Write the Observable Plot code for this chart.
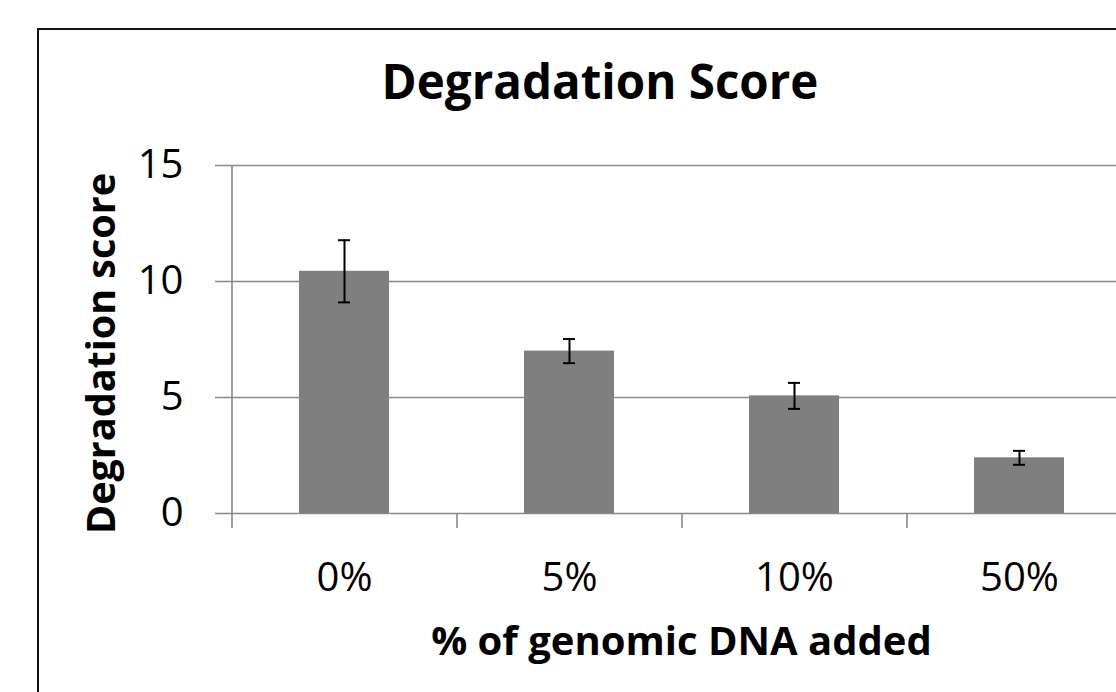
<!DOCTYPE html>
<html>
<head>
<meta charset="utf-8">
<script src="https://cdn.jsdelivr.net/npm/d3@7"></script>
<script src="https://cdn.jsdelivr.net/npm/@observablehq/plot@0.6"></script>
<style>
  html, body { margin: 0; padding: 0; background: #fff; overflow: hidden; width: 1116px; height: 692px; }
  #page { position: relative; width: 1116px; height: 692px; overflow: hidden; }
  #frame { position: absolute; left: 37px; top: 28px; width: 1200px; height: 800px; border: 2px solid #111; box-sizing: border-box; }
  #title { position: relative; height: 130px; }
  #title span { position: absolute; left: 0; width: 1200px; top: 57px; text-align: center; font: bold 47.5px "Open Sans", sans-serif; line-height: 1; color: #000; }
  #chart svg { max-width: none !important; overflow: visible; display: block; }
</style>
</head>
<body>
<div id="page">
  <div id="frame"></div>
  <div id="title"><span>Degradation Score</span></div>
  <div id="chart"></div>
</div>
<script>
const titleText = "Degradation Score";
const xLabel = "% of genomic DNA added";
const yLabel = "Degradation score";
const categories = ["0%", "5%", "10%", "50%"];
const scores = [10.44, 7.0, 5.07, 2.40];
const errors = [1.34, 0.52, 0.56, 0.30];
const yTicks = [0, 5, 10, 15];

const data = categories.map((c, i) => ({cat: c, score: scores[i], err: errors[i]}));

const W = 1200, H = 562;
const mL = 231, mR = 69, mT = 35, mB = 179;
const step = (W - mL - mR) / categories.length;
const gray = "#898989";
const fontFam = "'Open Sans', sans-serif";

const chart = Plot.plot({
  width: W,
  height: H,
  marginLeft: mL,
  marginRight: mR,
  marginTop: mT,
  marginBottom: mB,
  style: {fontFamily: fontFam, background: "transparent", maxWidth: "none", overflow: "visible"},
  x: {domain: categories, paddingInner: 0.6, paddingOuter: 0.3, axis: null},
  y: {domain: [0, 15], axis: null},
  marks: [
    Plot.ruleY(yTicks, {stroke: gray, strokeWidth: 1.6, insetLeft: -16}),
    Plot.ruleX([categories[0]], {x: d => d, dx: -step / 2, y1: 0, y2: 15, stroke: gray, strokeWidth: 1.6}),
    Plot.ruleX(categories, {x: d => d, dx: -step / 2, y1: 0, y2: 0, insetBottom: -15, stroke: gray, strokeWidth: 1.6}),
    Plot.barY(data, {x: "cat", y: "score", fill: "#7f7f7f"}),
    Plot.ruleX(data, {x: "cat", y1: d => d.score - d.err, y2: d => d.score + d.err, stroke: "#000", strokeWidth: 2}),
    Plot.tickY(data, {x: "cat", y: d => d.score - d.err, stroke: "#000", strokeWidth: 2, insetLeft: 39, insetRight: 39}),
    Plot.tickY(data, {x: "cat", y: d => d.score + d.err, stroke: "#000", strokeWidth: 2, insetLeft: 39, insetRight: 39}),
    Plot.axisY(yTicks, {tickSize: 0, tickPadding: 48, fontSize: 40, fill: "#000", tickFormat: d => String(d), label: null}),
    Plot.axisX({tickSize: 0, tickPadding: 49, fontSize: 40, fill: "#000", label: null}),
    Plot.text([xLabel], {frameAnchor: "bottom", dy: 141, text: d => d, fontSize: 40, fontWeight: "bold", fill: "#000"}),
    Plot.text([yLabel], {frameAnchor: "left", dx: -129, dy: 14, rotate: -90, textAnchor: "middle", text: d => d, fontSize: 39.5, fontWeight: "bold", fill: "#000"})
  ]
});
document.getElementById("chart").appendChild(chart);
</script>
</body>
</html>
